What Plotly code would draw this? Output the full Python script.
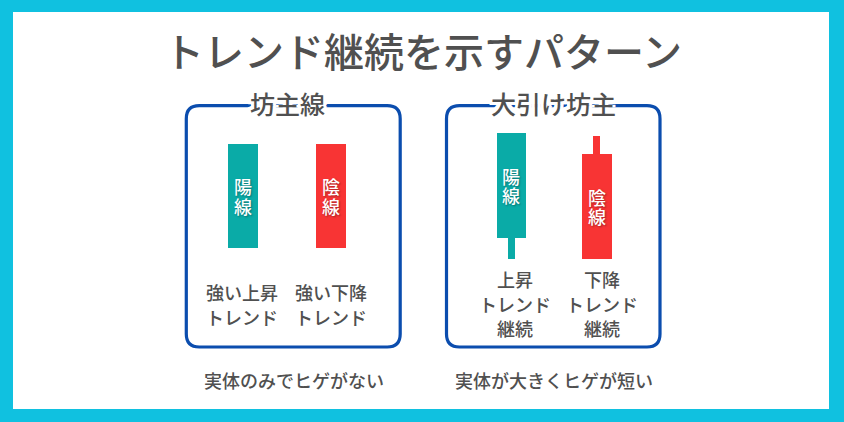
import plotly.graph_objects as go

W, H = 844, 422

# ---------------- data ----------------
categories = ["陽線", "陰線"]
# 坊主線 (no wicks)
bozu_open = [12, 91]
bozu_close = [91, 12]
bozu_high = [91, 91]
bozu_low = [12, 12]
# 大引け坊主 (short wicks)
ohbiki_open = [20, 83]
ohbiki_close = [99, 4]
ohbiki_high = [99, 97]
ohbiki_low = [4, 4]

title_text = "トレンド継続を示すパターン"
panel_titles = ["坊主線", "大引け坊主"]
bozu_labels = [["強い上昇", "トレンド"], ["強い下降", "トレンド"]]
ohbiki_labels = [["上昇", "トレンド", "継続"], ["下降", "トレンド", "継続"]]
captions = ["実体のみでヒゲがない", "実体が大きくヒゲが短い"]

# ---------------- styles ----------------
CYAN = "#10C1E0"
BLUE = "#0B4DAE"
TEAL = "#0AABA7"
RED = "#F83434"
GRAY = "#505050"
FONT = "Noto Sans CJK JP"
WEIGHT = 500
colors = [TEAL, RED]


def px(x):
    return x / W


def py(y):
    return 1 - y / H


fig = go.Figure()

panels = [
    dict(o=bozu_open, c=bozu_close, h=bozu_high, l=bozu_low, xd=(199, 375), bw=0.341, ww=0.075, ax=""),
    dict(o=ohbiki_open, c=ohbiki_close, h=ohbiki_high, l=ohbiki_low, xd=(468.5, 639.5), bw=0.345, ww=0.078, ax="2"),
]
Y_TOP, Y_BOT = 132, 264  # pixel rows of price 100 / 0

annotations = []
for p in panels:
    xa = "x" + p["ax"]
    ya = "y" + p["ax"]
    # wicks
    fig.add_trace(go.Bar(
        x=categories, y=[h - l for h, l in zip(p["h"], p["l"])], base=p["l"],
        width=p["ww"], marker=dict(color=colors, line=dict(width=0)),
        xaxis=xa, yaxis=ya, hoverinfo="skip", showlegend=False))
    # bodies
    fig.add_trace(go.Bar(
        x=categories, y=[abs(c - o) for o, c in zip(p["o"], p["c"])],
        base=[min(o, c) for o, c in zip(p["o"], p["c"])],
        width=p["bw"], marker=dict(color=colors, line=dict(width=0)),
        xaxis=xa, yaxis=ya, hoverinfo="skip", showlegend=False))
    # vertical labels inside bodies
    for cat, o, c in zip(categories, p["o"], p["c"]):
        mid = (o + c) / 2
        n = len(cat)
        for i, ch in enumerate(cat):
            annotations.append(dict(
                x=cat, y=mid, xref=xa, yref=ya, text=ch, showarrow=False,
                xanchor="center", yanchor="middle",
                yshift=(n - 1) / 2 * 19.5 - i * 19.5,
                font=dict(family=FONT, size=18, color="white", weight=WEIGHT,
                          shadow="1px 1px 2px rgba(0,0,0,0.35)")))

layout_axes = {}
for p in panels:
    key = p["ax"]
    layout_axes["xaxis" + key] = dict(
        domain=[px(p["xd"][0]), px(p["xd"][1])], type="category",
        range=[-0.5, 1.5], visible=False, fixedrange=True,
        anchor="y" + key)
    layout_axes["yaxis" + key] = dict(
        domain=[py(Y_BOT), py(Y_TOP)], range=[0, 100], visible=False,
        fixedrange=True, anchor="x" + key)

# ---------------- shapes ----------------
shapes = [dict(type="rect", xref="paper", yref="paper", x0=px(13), x1=px(829),
               y0=py(409), y1=py(12), fillcolor="white", line=dict(width=0), layer="below")]


def rounded(x0, y0, x1, y1, r):
    pts = [
        ("M", [(x0 + r, y0)]), ("L", [(x1 - r, y0)]), ("Q", [(x1, y0), (x1, y0 + r)]),
        ("L", [(x1, y1 - r)]), ("Q", [(x1, y1), (x1 - r, y1)]),
        ("L", [(x0 + r, y1)]), ("Q", [(x0, y1), (x0, y1 - r)]),
        ("L", [(x0, y0 + r)]), ("Q", [(x0, y0), (x0 + r, y0)]),
    ]
    s = ""
    for cmd, ps in pts:
        s += cmd + " " + " ".join(f"{px(a):.5f},{py(b):.5f}" for a, b in ps) + " "
    return s + "Z"


boxes = [(186.3, 105.7, 400.2, 347), (446.5, 105.7, 660, 347)]
for b in boxes:
    shapes.append(dict(type="path", xref="paper", yref="paper", path=rounded(*b, 13),
                       line=dict(color=BLUE, width=3.2), fillcolor="rgba(0,0,0,0)", layer="below"))

# ---------------- text ----------------


def add_text(t, cx, cy, size, **font_extra):
    annotations.append(dict(x=px(cx), y=py(cy), xref="paper", yref="paper", text=t,
                            showarrow=False, xanchor="center", yanchor="middle",
                            font=dict(family=FONT, size=size, color=GRAY, weight=WEIGHT, **font_extra)))


add_text(title_text, 423, 50, 40)

halo = ", ".join(f"{dx}px {dy}px 0 white" for dx in (-3, 0, 3) for dy in (-3, 0, 3) if dx or dy)
for t, cx in zip(panel_titles, [287.5, 553]):
    add_text(t, cx, 103, 25, shadow=halo)


def add_lines(lines, cx, cy, step, size=18):
    n = len(lines)
    for i, ln in enumerate(lines):
        add_text(ln, cx, cy + (i - (n - 1) / 2) * step, size)


for lines, cx in zip(bozu_labels, [242, 331]):
    add_lines(lines, cx, 304.5, 25)
for lines, cx in zip(ohbiki_labels, [515, 602]):
    add_lines(lines, cx, 303.5, 24.5)

for t, cx in zip(captions, [293.5, 554]):
    add_text(t, cx, 379.5, 18)

fig.update_layout(
    width=W, height=H, margin=dict(l=0, r=0, t=0, b=0),
    paper_bgcolor=CYAN, plot_bgcolor="rgba(0,0,0,0)",
    barmode="overlay", bargap=0, showlegend=False,
    shapes=shapes, annotations=annotations, **layout_axes)

fig.write_html("out.html", config=dict(displayModeBar=False, staticPlot=True),
               post_script="document.body.style.margin='0';document.body.style.overflow='hidden';")
